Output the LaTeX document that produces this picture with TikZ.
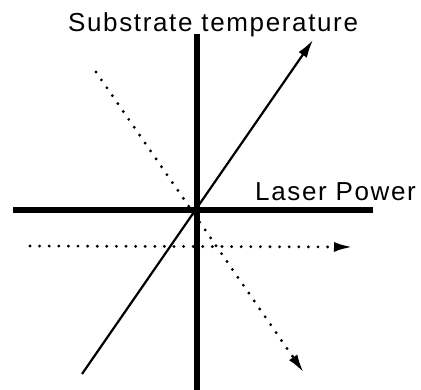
\documentclass[tikz,border=0pt]{standalone}
\usepackage{fontspec}
\setmainfont{Liberation Sans}[LetterSpace=6.3]
\usetikzlibrary{arrows.meta}
\tikzset{
  axisline/.style={line width=6.5pt, line cap=butt},
  solidarrow/.style={line width=2.2pt, -{Latex[length=18pt,width=10pt]}},
  dotarrow/.style={line width=3.2pt, line cap=round, dash pattern=on 0pt off 9.6pt,
    -{Latex[length=19pt,width=10pt,line cap=butt]}},
  lab/.style={font=\fontsize{26}{26}\selectfont, inner sep=0pt, anchor=base west}
}
\begin{document}
\begin{tikzpicture}[x=1pt,y=-1pt]
\useasboundingbox (0,0) rectangle (421,390);
% coordinates
\coordinate (vt) at (197,34);
\coordinate (vb) at (197,390);
\coordinate (hl) at (13,210);
\coordinate (hr) at (373,210);
\coordinate (sa) at (82,374);
\coordinate (sb) at (313,40);
\coordinate (da) at (96,72);
\coordinate (db) at (304,373);
\coordinate (ha) at (30,246);
\coordinate (hb) at (353,247);
% axes
\draw[axisline] (vt) -- (vb);
\draw[axisline] (hl) -- (hr);
% arrows
\draw[solidarrow] (sa) -- (sb);
\draw[dotarrow] (da) -- (db);
\draw[dotarrow] (ha) -- (hb);
% labels
\node[lab] (st) at (68,32) {Substrate temperature};
\node[lab] (lp) at (255,201) {Laser Power};
\end{tikzpicture}
\end{document}
